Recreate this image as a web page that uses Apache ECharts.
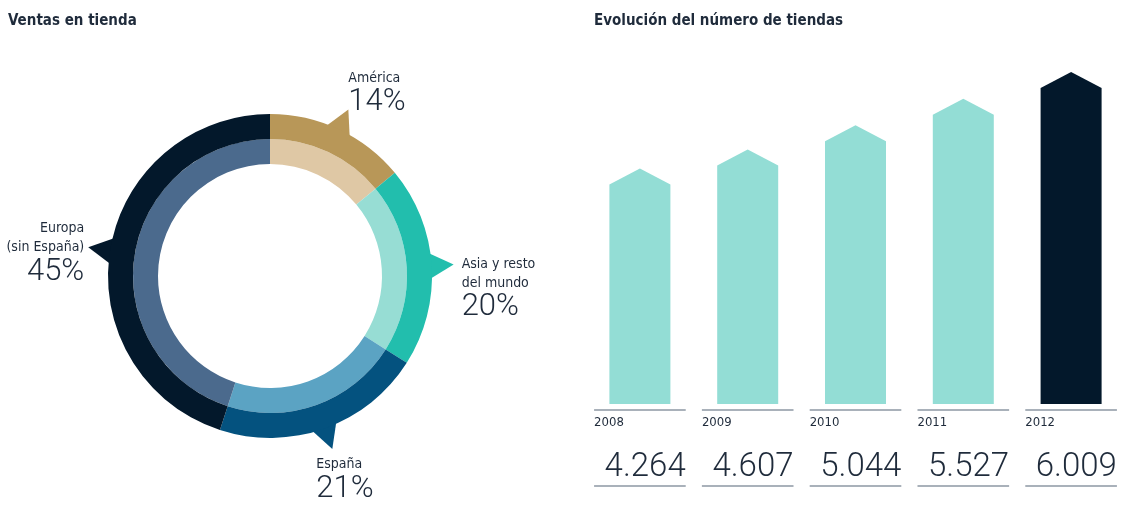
<!DOCTYPE html>
<html>
<head>
<meta charset="utf-8">
<script src="https://cdn.jsdelivr.net/npm/echarts@6/dist/echarts.min.js"></script>
<style>
  html, body { margin: 0; padding: 0; background: #fff; }
  #chart { width: 1125px; height: 509px; }
</style>
</head>
<body>
<div id="chart"></div>
<script>
// datos
const regions = ['América', 'Asia y resto\ndel mundo', 'España', 'Europa\n(sin España)']
const shares = [14, 20, 21, 45]
const years = ['2008', '2009', '2010', '2011', '2012']
const stores = [4264, 4607, 5044, 5527, 6009]

// colores
const outerColors = ['#B89758', '#22BEAD', '#04527F', '#03182B']
const innerColors = ['#DFC8A5', '#97DDD4', '#5BA3C3', '#4B6A8D']
const barColors = ['#93DDD5', '#93DDD5', '#93DDD5', '#93DDD5', '#03182B']
const ink = '#1F2B3B'
const narrow = "'DejaVu Sans Condensed', 'Liberation Sans Narrow', sans-serif"
const light = "Roboto, 'Open Sans', sans-serif"

const center = [270, 276]
const total = shares.reduce((a, b) => a + b, 0)

// posición del texto respecto a la punta de cada indicador
const labelPlace = [
  { dx: 0, dy: 8, align: 'left', va: 'bottom' },
  { dx: 8, dy: -10, align: 'left', va: 'top' },
  { dx: -16, dy: 6, align: 'left', va: 'top' },
  { dx: -4, dy: -28, align: 'right', va: 'top' }
]

const fmt = v => String(v).replace(/\B(?=(\d{3})+(?!\d))/g, '.')

const chart = echarts.init(document.getElementById('chart'))

const pointerItem = (params, api) => {
  const i = params.dataIndex
  const before = shares.slice(0, i).reduce((a, b) => a + b, 0)
  const mid = (before + shares[i] / 2) / total * Math.PI * 2
  const pt = (r, a) => [center[0] + r * Math.sin(a), center[1] - r * Math.cos(a)]
  const tip = pt(184, mid)
  const p = labelPlace[i]
  const name = regions[i].split('\n').map(s => '{n|' + s + '}').join('\n')
  return {
    type: 'group',
    children: [
      {
        type: 'polygon',
        shape: { points: [pt(158, mid - 0.09), tip, pt(158, mid + 0.09)] },
        style: { fill: outerColors[i] }
      },
      {
        type: 'text',
        x: tip[0] + p.dx,
        y: tip[1] + p.dy,
        style: {
          text: name + '\n{p|' + shares[i] + '%}',
          align: p.align,
          verticalAlign: p.va,
          fill: ink,
          rich: {
            n: { fontFamily: narrow, fontSize: 14, lineHeight: 19, fill: ink, align: p.align },
            p: { fontFamily: light, fontWeight: 300, fontSize: 31, lineHeight: 30, fill: ink, align: p.align }
          }
        }
      }
    ]
  }
}

const barItem = (params, api) => {
  const i = params.dataIndex
  const base = api.coord([api.value(0), 0])
  const top = api.coord([api.value(0), api.value(1)])
  const slot = api.size([1, 0])[0]
  const x = base[0]
  const w = 61
  const half = slot * 0.425
  return {
    type: 'group',
    children: [
      {
        type: 'polygon',
        shape: {
          points: [
            [x - w / 2, base[1]], [x - w / 2, top[1] + 16], [x, top[1]],
            [x + w / 2, top[1] + 16], [x + w / 2, base[1]]
          ]
        },
        style: { fill: barColors[i] }
      },
      {
        type: 'line',
        shape: { x1: x - half, y1: base[1] + 6, x2: x + half, y2: base[1] + 6 },
        style: { stroke: '#A9B1BA', lineWidth: 2 }
      },
      {
        type: 'text',
        x: x - half,
        y: base[1] + 19,
        style: { text: years[i], fill: ink, font: '13px ' + narrow, verticalAlign: 'middle', align: 'left' }
      },
      {
        type: 'text',
        x: x + half,
        y: base[1] + 64,
        style: { text: fmt(stores[i]), fill: ink, font: '300 33px ' + light, verticalAlign: 'middle', align: 'right' }
      },
      {
        type: 'line',
        shape: { x1: x - half, y1: base[1] + 82, x2: x + half, y2: base[1] + 82 },
        style: { stroke: '#A9B1BA', lineWidth: 2 }
      }
    ]
  }
}

chart.setOption({
  animation: false,
  title: [
    { text: 'Ventas en tienda', left: 8, top: 14, padding: 0, textStyle: { color: ink, fontFamily: narrow, fontSize: 15, fontWeight: 'bold' } },
    { text: 'Evolución del número de tiendas', left: 594, top: 14, padding: 0, textStyle: { color: ink, fontFamily: narrow, fontSize: 15, fontWeight: 'bold' } }
  ],
  grid: { left: 586, width: 542, top: 72, bottom: 105 },
  xAxis: { type: 'category', data: years, show: false },
  yAxis: { type: 'value', min: 0, max: 'dataMax', show: false },
  series: [
    {
      type: 'pie',
      center: center,
      radius: [112, 137],
      startAngle: 90,
      clockwise: true,
      silent: true,
      label: { show: false },
      labelLine: { show: false },
      data: shares.map((v, i) => ({ value: v, name: regions[i], itemStyle: { color: innerColors[i] } }))
    },
    {
      type: 'pie',
      center: center,
      radius: [137, 162],
      startAngle: 90,
      clockwise: true,
      silent: true,
      label: { show: false },
      labelLine: { show: false },
      data: shares.map((v, i) => ({ value: v, name: regions[i], itemStyle: { color: outerColors[i] } }))
    },
    {
      type: 'custom',
      coordinateSystem: 'none',
      silent: true,
      data: shares,
      renderItem: pointerItem
    },
    {
      type: 'custom',
      silent: true,
      data: stores.map((v, i) => [i, v]),
      encode: { x: 0, y: 1 },
      renderItem: barItem
    }
  ]
})
</script>
</body>
</html>
